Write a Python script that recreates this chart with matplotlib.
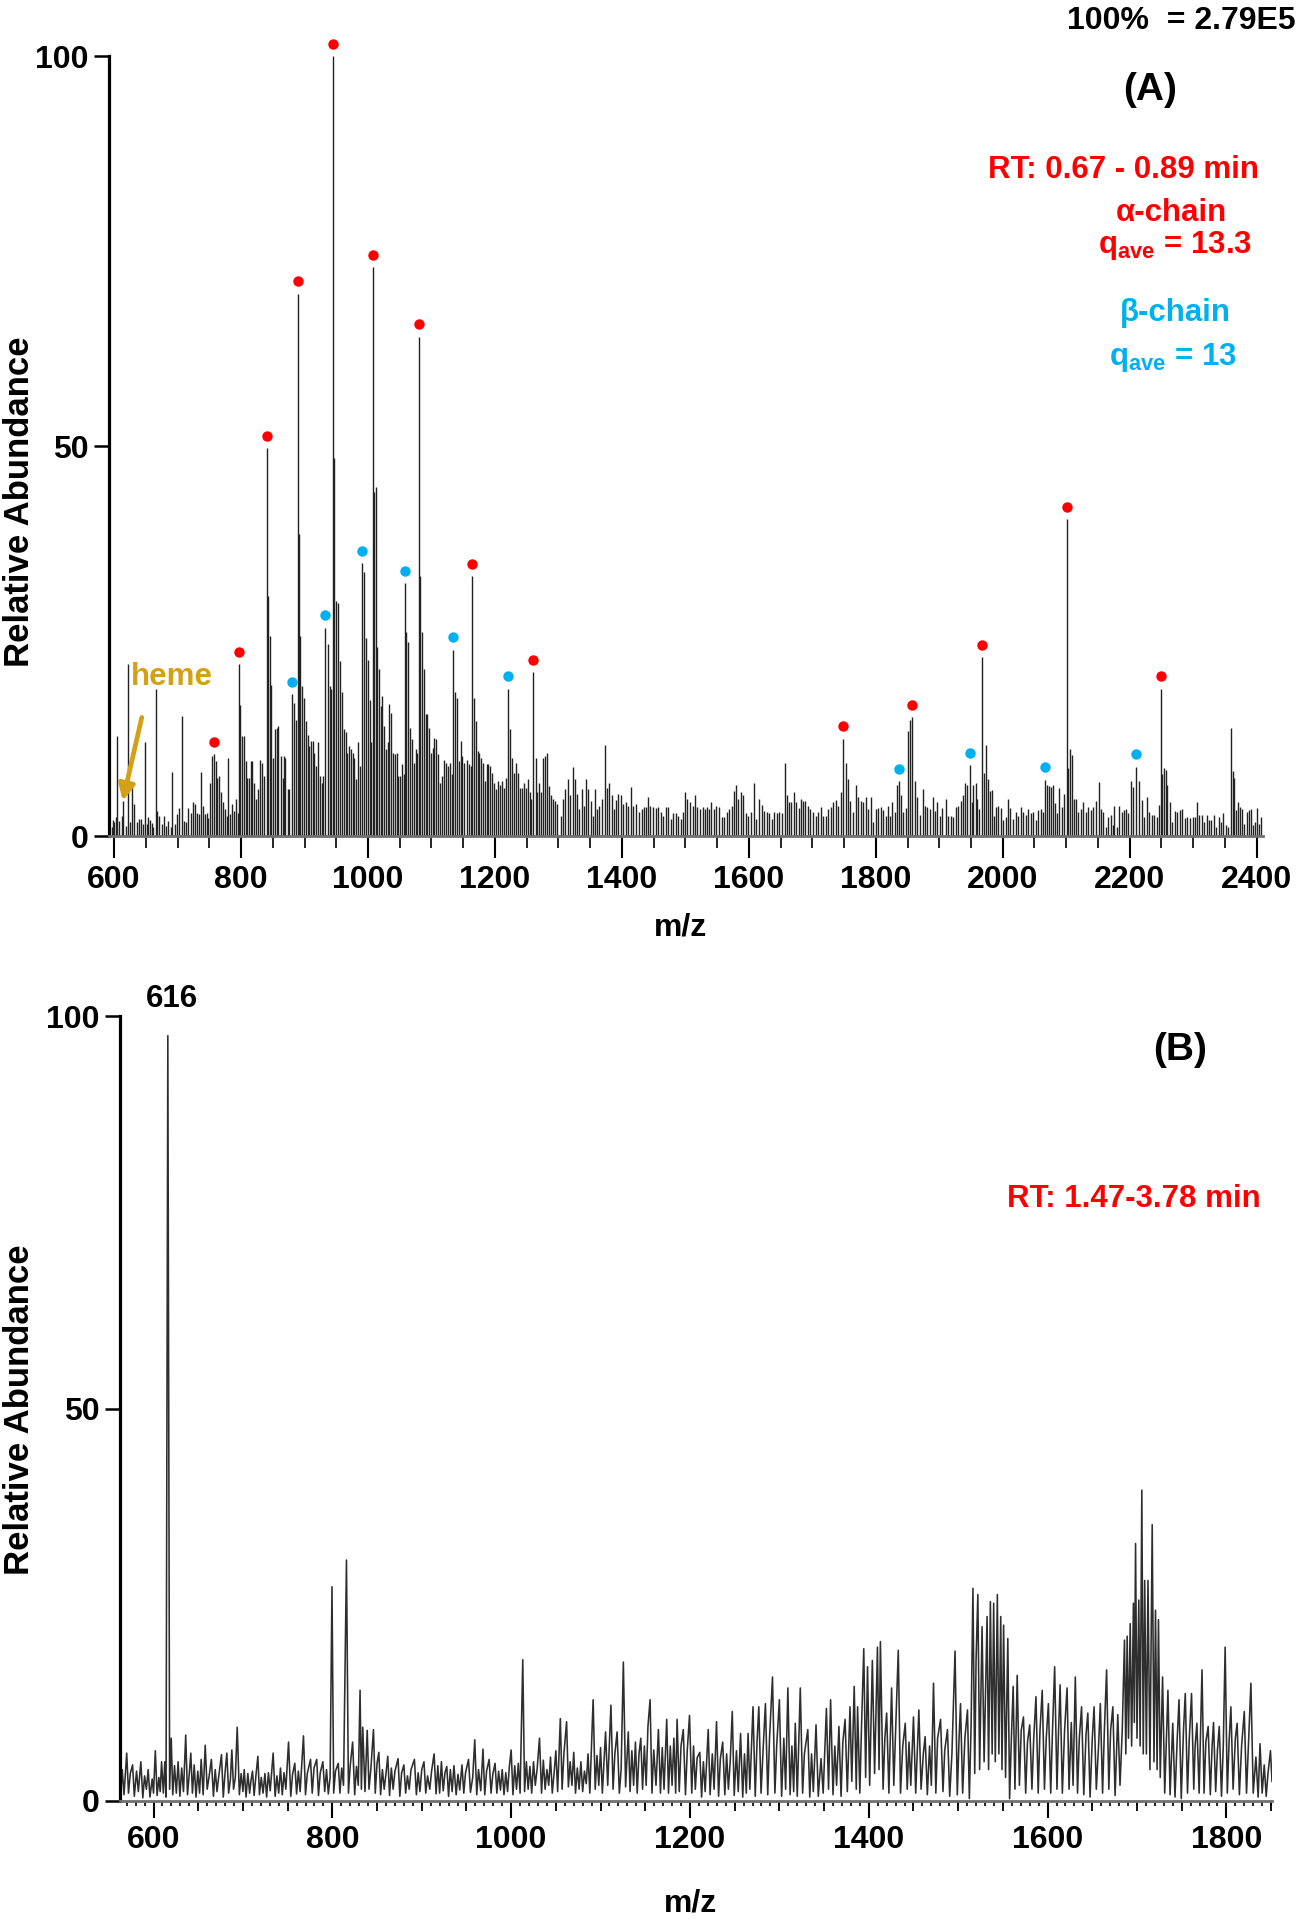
import matplotlib
matplotlib.use('Agg')
import matplotlib.pyplot as plt
from matplotlib.ticker import MultipleLocator, NullFormatter

plt.rcParams['font.family'] = ['Liberation Sans', 'DejaVu Sans']
plt.rcParams['font.weight'] = 'bold'
plt.rcParams['mathtext.fontset'] = 'custom'
plt.rcParams['mathtext.rm'] = 'Liberation Sans:bold'
plt.rcParams['mathtext.bf'] = 'Liberation Sans:bold'
plt.rcParams['mathtext.it'] = 'Liberation Sans:bold'

# ---------------- Panel A : stick spectrum (m/z, relative abundance) ----------------
mz_a = [
    596, 598, 600.5, 603, 605.2, 608.4, 612, 614.6, 618.3, 622, 625, 629, 632, 635.6, 639, 642, 645, 649,
    651.4, 654, 656.6, 659, 662, 665.6, 668, 671, 675, 678.7, 682, 685.5, 689, 692, 695.5, 699.7, 702.8, 707,
    710, 713.5, 717, 720.5, 724, 727, 730, 733.5, 737, 739.6, 743, 745.8, 748.5, 751, 754, 757, 760, 762.7,
    766, 768.5, 771.6, 775, 777.5, 780, 783, 786, 789, 792, 794.8, 797.3,
    799, 802, 804.7, 807.3, 810, 812.6, 815, 818, 821, 823.6, 827, 830, 833, 836, 840.4, 842, 845.7, 848,
    850, 853, 856, 859, 862.5, 865.6, 868, 870, 873.5, 876, 880.8, 884, 886.6, 889.2, 890.8, 893.4, 896.6,
    898.7, 902, 905, 907.6, 910.2, 913, 915.5, 918, 921, 924.4, 927, 929.5, 932.8, 936.5, 939.6, 942, 945.4,
    947, 950, 952.8, 955.4, 958.5, 961.7, 964.8, 967.5, 970.6, 973.2, 976, 978.5, 981, 984.8, 987, 990,
    993.7, 997, 1000, 1003, 1005, 1007.4, 1010, 1012, 1014.7, 1017.3, 1020, 1022.6, 1025, 1028, 1031, 1033.6,
    1036, 1039, 1042, 1045, 1047.8, 1050.5, 1053.5, 1056, 1058.8, 1060.4, 1063.5, 1066.7, 1069.3, 1072.5,
    1075.6, 1078, 1080.3, 1081.9, 1085, 1087.7, 1091, 1093.5, 1096, 1099.2, 1101.8, 1104.5, 1107, 1110.3,
    1113.4, 1116.6, 1119.7, 1122.7, 1125.5, 1129, 1132, 1134.4, 1137.6, 1140.2, 1142.8, 1146, 1148.6, 1151.7,
    1155.4, 1158.5, 1161.7, 1164.3, 1167, 1169.6, 1172.7, 1175.3, 1178, 1180.7, 1184.3, 1187, 1189.6, 1192.7,
    1195.8, 1199, 1201.6, 1204.8, 1208, 1211, 1214.2, 1216.8, 1220.5, 1223.6, 1226.8, 1230, 1233, 1236.3,
    1239.4, 1242.6, 1245.7, 1248.8, 1252, 1255, 1257.5, 1260.4, 1264, 1266.7, 1270, 1272.6, 1276, 1278.8,
    1281.4, 1284.6, 1287.7, 1291, 1294.5, 1298,
    1303.6, 1307.8, 1310, 1314.6, 1318, 1323.5, 1326, 1330, 1333, 1336.6, 1340, 1343.5, 1347, 1351, 1354,
    1357.6, 1361, 1364.5, 1368, 1373, 1376, 1380, 1384, 1387.5, 1390.7, 1394, 1398, 1402, 1406.5, 1410, 1414,
    1418, 1423, 1427.5, 1431, 1435, 1438, 1441.6, 1445, 1449.5, 1453.7, 1457.4, 1461, 1465, 1469.5, 1473,
    1477, 1481, 1485, 1489, 1492.5, 1496, 1499, 1503, 1507, 1511.5, 1515, 1519, 1523, 1527, 1531, 1534.5,
    1538, 1541, 1545, 1549, 1553, 1557, 1561, 1565, 1569, 1573, 1576.6, 1579, 1583, 1587, 1591, 1595.5, 1599,
    1603, 1608.6, 1612, 1616.5, 1620, 1624, 1628, 1632, 1636, 1639.5, 1643.8, 1648, 1651.6, 1657, 1660.6,
    1663.7, 1667, 1671, 1675, 1679, 1682, 1686, 1689, 1693.6, 1697, 1701.5, 1705.7, 1709, 1713, 1717, 1721,
    1725, 1729, 1733, 1737, 1741, 1744.5, 1748.8, 1752.4, 1756.6, 1760, 1764.5, 1768.7, 1772, 1776, 1780,
    1784.5, 1788, 1792, 1796, 1800, 1804, 1807.6, 1811.7, 1815.4, 1819, 1822, 1826, 1830, 1834, 1837, 1839.6,
    1843, 1847, 1851, 1853.8, 1857, 1861.6, 1865, 1869.5, 1873.7, 1877, 1881, 1885, 1889.5, 1893, 1897, 1901,
    1905, 1910, 1914, 1918, 1922, 1926, 1930, 1933.6, 1936.7, 1940, 1943, 1948, 1951.4, 1953.5, 1957.7, 1960,
    1963, 1967, 1970.8, 1973.5, 1976, 1980, 1982.4, 1986, 1989, 1993, 1996.6, 2000.8, 2004.4, 2008.6, 2012,
    2016.5, 2020.7, 2024,
    2028, 2032, 2036, 2040, 2044.5, 2048, 2052, 2056, 2059.7, 2063, 2066.6, 2069, 2072.4, 2075.5, 2078.6,
    2082.3, 2086, 2089, 2093, 2097, 2100.7, 2102.8, 2105.4, 2108.6, 2112, 2115.4, 2119, 2122.8, 2127, 2131,
    2134.8, 2138.5, 2142.7, 2147, 2151.6, 2154.8, 2158.5, 2162.6, 2166.3, 2170, 2173, 2175.8, 2179.5, 2183.6,
    2187.3, 2191, 2194, 2197.8, 2201.5, 2205.7, 2209.9, 2214, 2218.8, 2222.5, 2226.7, 2230.4, 2234.6, 2238.3,
    2242.5, 2245.6, 2249.3, 2251.4, 2254, 2257, 2259.3, 2263.5, 2267, 2270.8, 2275, 2279, 2283, 2286.5,
    2290.8, 2295, 2299, 2302.8, 2305.5, 2309.6, 2313.3, 2317, 2321, 2325, 2328.5, 2332.2, 2336, 2340, 2343.8,
    2347.5, 2351, 2354.8, 2359, 2362.2, 2364.3, 2367.4, 2370.5, 2373.7, 2376.9, 2380.5, 2384.2, 2387.4,
    2390.5, 2393.6, 2396.8, 2400, 2403, 2406.3,
]
int_a = [
    1.2, 2.0, 1.8, 2.4, 12.8, 1.9, 2.6, 4.5, 1.3, 22.0, 1.8, 6.4, 4.1, 1.8, 2.2, 2.2, 1.6, 12.0,
    1.6, 2.4, 2.1, 1.7, 1.2, 18.9, 3.2, 2.6, 1.6, 2.6, 1.3, 1.9, 1.1, 8.2, 1.6, 2.8, 3.6, 15.4,
    1.9, 1.8, 3.6, 2.9, 4.3, 4.1, 3.0, 2.8, 8.2, 3.8, 2.8, 3.0, 2.3, 6.8, 10.2, 10.5, 9.6, 7.5,
    7.7, 5.6, 4.3, 3.5, 2.6, 10.0, 2.8, 4.1, 3.2, 4.7, 3.0, 22.0,
    16.8, 12.8, 12.8, 9.6, 7.5, 7.5, 9.6, 9.6, 6.8, 4.7, 6.0, 9.8, 9.4, 7.7, 49.7, 30.8, 25.6, 19.4,
    10.0, 13.7, 13.9, 14.1, 10.3, 7.5, 10.3, 10.0, 6.0, 6.0, 18.2, 17.0, 14.9, 69.5, 38.7, 25.6, 19.2,
    17.7, 14.7, 13.0, 11.5, 12.2, 12.2, 10.7, 9.0, 12.0, 7.7, 6.8, 7.7, 26.7, 24.6, 19.2, 18.8, 100.0,
    48.4, 30.1, 29.9, 22.5, 18.4, 13.7, 13.3, 10.7, 11.5, 11.2, 10.7, 10.0, 7.3, 12.0, 9.0, 35.0,
    33.8, 25.4, 22.6, 17.5, 12.0, 72.9, 44.1, 44.7, 24.2, 21.4, 16.7, 18.0, 14.1, 11.2, 12.0, 16.9,
    15.8, 10.7, 10.5, 10.7, 7.7, 7.7, 9.2, 8.0, 32.4, 26.1, 24.9, 13.9, 12.4, 9.4,
    11.2, 10.7, 64.0, 33.3, 26.1, 21.4, 15.6, 15.6, 13.9, 10.7, 11.3, 12.6, 12.4, 10.5,
    6.8, 7.7, 9.8, 9.4, 9.0, 9.4, 8.0, 23.9, 18.4, 17.7, 9.6, 12.2, 10.3, 9.4,
    9.8, 9.2, 9.0, 33.3, 17.7, 14.7, 10.9, 10.7, 10.0, 9.4, 7.1, 9.2, 9.2, 9.0,
    8.1, 6.8, 6.0, 7.1, 6.6, 7.1, 6.2, 7.5, 18.9, 13.7, 10.0, 8.1, 9.4, 8.1,
    6.2, 6.2, 6.8, 6.2, 7.3, 5.6, 4.8, 21.0, 10.0, 5.6, 6.8, 5.6, 10.0, 10.3,
    10.7, 6.4, 5.2, 4.7, 4.5, 4.1,
    2.6, 4.8, 6.0, 7.3, 5.2, 8.9, 7.3, 5.4, 3.5, 6.0, 3.9, 7.3, 6.0, 4.5, 2.6,
    6.0, 3.5, 3.9, 4.8, 11.7, 6.1, 6.8, 5.2, 3.5, 4.6, 5.4, 5.2, 4.1, 4.3, 3.9, 6.3,
    3.8, 4.1, 3.1, 3.5, 3.7, 3.7, 5.0, 3.9, 3.7, 3.6, 3.7, 3.1, 2.6, 3.7, 3.7,
    2.2, 2.9, 2.9, 2.6, 2.2, 3.1, 5.6, 4.8, 4.3, 3.9, 5.2, 3.7, 3.5, 3.7, 3.5, 3.7,
    3.5, 4.3, 3.5, 3.8, 3.7, 2.4, 2.4, 3.1, 3.5, 3.9, 5.8, 6.5, 4.8, 5.6, 5.2, 2.9, 2.6,
    3.1, 6.8, 2.2, 4.8, 4.0, 3.2, 3.1, 2.9, 2.2, 3.1, 2.9, 3.1, 2.9, 9.4, 5.2,
    4.3, 4.3, 5.7, 4.3, 3.6, 4.8, 4.5, 4.5, 3.9, 3.5, 3.1, 2.6, 3.1, 3.7, 2.6, 2.6,
    3.5, 3.7, 4.3, 4.6, 3.9, 5.7, 12.5, 9.4, 7.3, 4.5, 3.1, 6.5, 5.0, 4.5, 4.3,
    5.0, 3.5, 5.0, 1.8, 3.5, 3.6, 3.7, 3.3, 2.6, 3.9, 2.6, 4.4, 3.1, 6.5, 7.0, 5.2,
    3.1, 3.6, 13.4, 14.9, 15.2, 7.0, 5.0, 2.7, 6.0, 3.9, 3.7, 3.5, 5.0, 3.2, 4.3, 2.6,
    3.6, 4.8, 2.6, 2.6, 2.4, 3.7, 3.8, 4.5, 5.2, 6.8, 6.5, 9.1, 4.3, 6.5, 6.8, 4.8,
    3.5, 22.9, 8.1, 11.7, 7.3, 5.8, 5.9, 2.6, 3.7, 3.8, 3.6, 2.0, 2.4, 4.8, 3.6,
    2.2, 3.1, 2.6,
    3.7, 3.1, 2.7, 3.5, 2.9, 3.1, 2.0, 3.3, 3.5, 3.1, 7.2, 6.6, 6.4, 6.3, 6.6,
    4.2, 2.9, 6.1, 3.75, 5.4, 40.6, 8.7, 11.2, 10.4, 4.8, 4.8, 3.1, 3.5, 4.3, 3.1,
    3.75, 3.3, 3.75, 4.5, 6.9, 3.5, 3.1, 1.2, 2.5, 2.7, 1.4, 3.8, 1.2, 3.8,
    3.1, 3.3, 3.5, 2.9, 7.1, 6.3, 8.9, 7.1, 4.6, 2.5, 5.0, 3.1, 2.7, 2.7,
    2.5, 4.0, 18.9, 7.9, 8.7, 8.4, 6.5, 4.3, 1.8, 3.2, 3.1, 3.3, 3.5, 2.3,
    2.5, 2.3, 2.5, 2.5, 4.3, 2.7, 2.7, 1.8, 2.7, 2.0, 2.0, 2.7, 1.2, 2.5, 1.8,
    2.9, 1.4, 1.2, 13.8, 8.3, 7.5, 3.3, 4.3, 3.75, 3.5, 1.6, 3.1, 3.3,
    3.5, 1.4, 1.8, 3.6, 1.6, 2.5,
]

# annotated charge-state peaks (dot markers)
alpha_mz = [757, 797.3, 840.4, 889.2, 945.4, 1007.4, 1080.3, 1164.3, 1260.4, 1748.8, 1857, 1967, 2100.7, 2249.3]
alpha_int = [10.5, 22.0, 49.7, 69.5, 100.0, 72.9, 64.0, 33.3, 21.0, 12.5, 15.2, 22.9, 40.6, 18.9]
beta_mz = [880.8, 932.8, 990, 1058.8, 1134.4, 1220.5, 1837, 1948, 2066.6, 2209.9]
beta_int = [18.2, 26.7, 35.0, 32.4, 23.9, 18.9, 7.0, 9.1, 7.2, 8.9]

# ---------------- Panel B : profile spectrum ----------------
mz_b = [
    563, 565, 567, 570, 572, 574, 576.6, 578.5, 581, 583, 585.8, 588, 590, 592, 594, 596, 598.5, 600, 602, 604,
    606, 607.5, 609, 611, 612.6, 614, 616, 618, 619.8, 621.5, 623.5, 625.5, 627.5, 629.5, 631.5, 633.5, 636,
    638, 640, 641.7, 643.5, 645.5, 647.5, 649.5, 651.5, 653.3, 655.5, 657.8, 660, 662, 664.7, 667, 669, 671,
    673, 676, 678, 680, 682, 684, 686, 687.6, 689.5, 691.5, 693.6, 696, 698, 700, 701.4, 703.5, 705.5, 707.5,
    709, 710.7, 712.5, 714.5, 716.7, 718.5, 720.5, 722.5, 724.6, 726.5, 728.5, 730.5, 733.8, 736, 738, 740,
    742, 744, 746, 748, 751, 753.5, 755.5, 758, 760, 762, 764, 765.5, 767.7, 770, 772, 775.6, 777.5, 779.5,
    782.5, 784.5, 786.5, 789.4, 791.5, 793.5, 795.5, 797.5, 799.6, 801.5, 803.5, 806.6, 808.5, 810.5, 812.5,
    815.8, 818, 820, 822.7, 825, 827, 829, 831, 832.5, 834, 836.5, 839, 841, 843, 846, 848, 850, 852, 854,
    856, 858, 860, 862, 864, 866, 868, 870, 873.5, 875.5, 877.5, 880, 882, 884, 886, 888, 891.8, 894, 896,
    898, 900, 902.5, 904.5, 906.5, 909, 911, 913.8, 916, 918, 920, 922, 924, 926, 928, 930, 932, 934, 936,
    938.5, 940.5, 942.5, 945, 947, 949, 952.3, 954.5, 957, 959.3, 961.5, 963.5, 966, 968.5, 970.5, 972.5,
    975.4, 977.5, 979.5, 982, 984, 986, 988, 990, 992, 994, 996, 998, 1000, 1002, 1004, 1006, 1008, 1010,
    1013, 1015, 1017, 1019, 1021, 1023, 1025, 1027, 1029, 1031.7, 1034, 1036, 1038, 1040, 1042, 1044, 1046,
    1048, 1050, 1052, 1055, 1057, 1059, 1062, 1064, 1066, 1068, 1070, 1072, 1074, 1076, 1078, 1080, 1082,
    1084, 1086, 1088, 1091.7, 1094, 1096, 1098, 1100, 1102, 1105.6, 1108, 1111.6, 1114, 1116, 1118.5, 1121,
    1123, 1125.5, 1128, 1131, 1133, 1135, 1137, 1139, 1141, 1143, 1145, 1147, 1149, 1151, 1153, 1155.4,
    1157.5, 1159.5, 1162, 1164.7, 1167, 1169, 1171, 1174, 1176, 1178, 1180, 1182, 1184, 1185.6, 1188, 1190,
    1192.5, 1195, 1197, 1199.5, 1202, 1204, 1206, 1208, 1211, 1213, 1215, 1217, 1220.4, 1222.5, 1225, 1227,
    1229.7, 1232, 1234, 1236.6, 1239, 1241, 1243, 1245, 1247.3, 1249.5, 1252, 1254, 1256.6, 1259, 1261, 1263,
    1265, 1267, 1270.5, 1273, 1275, 1277, 1279.5, 1282, 1284.4, 1287, 1289, 1292.3, 1295, 1297, 1300, 1302.5,
    1305, 1307, 1309.5, 1312, 1314, 1316, 1317.8, 1320, 1323.4, 1326, 1328, 1331.8, 1334, 1336, 1338, 1341,
    1343.5, 1346.6, 1349, 1352.6, 1355, 1357.3, 1360, 1362, 1364, 1366.6, 1369, 1371, 1373.5, 1376, 1379,
    1381, 1383.7, 1386, 1387.5, 1390, 1392, 1394.4, 1396.5, 1398.6, 1401, 1404, 1406.5, 1409.7, 1411.5, 1413,
    1416, 1418, 1420, 1422.5, 1425.5, 1428, 1430, 1433, 1435.5, 1438, 1440.8, 1443, 1445, 1447, 1450, 1452.5,
    1456, 1458.5, 1461, 1463, 1465.5, 1468, 1470, 1472.4, 1475, 1477, 1480.3, 1483, 1485, 1488, 1490.5, 1493,
    1496.5, 1499, 1501, 1502.6, 1505, 1507.5, 1510.4, 1512.5, 1514.5, 1516.5, 1518.5, 1520, 1522, 1524,
    1526.7, 1529, 1532.3, 1534, 1536, 1538, 1539.7, 1541.5, 1543.8, 1545.5, 1547.6, 1549, 1550.8, 1553,
    1555.5, 1557.5, 1559.5, 1561.5, 1563.5, 1566, 1568.5, 1570.5, 1573, 1575.5, 1577.5, 1580, 1582.5, 1584.5,
    1587, 1589.5, 1591.5, 1594, 1596.5, 1598.5, 1600.9, 1603.5, 1605.5, 1607.9, 1610.5, 1612, 1614, 1616.5,
    1619, 1621.8, 1624, 1626.5, 1628.5, 1631, 1633.5, 1635.5, 1638, 1640.5, 1643, 1645, 1647.5, 1650, 1652,
    1654.5, 1657, 1659, 1661.5, 1663.5, 1666, 1668.5, 1670.5, 1673, 1675.5, 1678.5, 1681, 1683.5, 1686,
    1687.5, 1689, 1690.5, 1692.4, 1694, 1696, 1697, 1698.4, 1700, 1702, 1703.5, 1705.4, 1707, 1708.6, 1710.5,
    1712.3, 1714.5, 1717, 1719, 1720.7, 1722.5, 1724, 1726, 1728.6, 1731, 1734.6, 1737, 1740, 1742.5, 1745,
    1747, 1749.5, 1752, 1754, 1756.5, 1758.5, 1761, 1763.5, 1765, 1767, 1769.5, 1772.7, 1775, 1777, 1779.6,
    1782, 1784, 1785.6, 1788, 1790, 1792, 1794.5, 1796.5, 1798.6, 1801, 1803, 1805, 1807.5, 1810, 1812,
    1814.5, 1817, 1820, 1822.5, 1825, 1827.4, 1830, 1833, 1835.5, 1837.6, 1840, 1842.3, 1844.5, 1846.5,
    1849.3, 1851,
]
ab_b = [
    0.5, 4.0, 0.8, 6.1, 1.0, 3.5, 4.6, 0.6, 3.8, 1.2, 5.0, 0.4, 3.2, 1.5, 4.0, 0.5, 2.8, 1.0, 6.4, 0.7,
    3.0, 1.2, 5.0, 1.0, 5.0, 0.5, 97.5, 1.5, 8.0, 0.8, 4.5, 1.0, 5.0, 0.6, 4.2, 1.2, 8.4,
    0.8, 3.5, 6.1, 1.0, 4.6, 0.5, 3.8, 1.0, 5.3, 0.8, 7.1, 1.5, 3.0, 5.3, 0.6, 4.0, 1.2,
    3.2, 5.9, 0.5, 3.6, 6.1, 1.0, 2.8, 6.5, 1.5, 3.0, 9.4, 0.8, 3.5, 1.2, 4.0, 0.5, 3.5, 1.0,
    2.6, 3.8, 0.7, 3.2, 5.7, 0.8, 3.0, 1.0, 3.5, 0.5, 3.6, 1.3, 6.1, 0.6, 3.2, 1.0,
    4.2, 0.8, 3.6, 1.5, 7.5, 0.6, 3.4, 4.8, 0.9, 3.8, 1.2, 4.0, 8.3, 0.8, 3.5, 5.3, 1.0, 4.2,
    5.3, 0.7, 3.6, 5.0, 1.2, 4.0, 0.9, 3.0, 27.3, 1.0, 3.8, 4.8, 1.0, 4.2, 2.0,
    30.7, 1.0, 4.5, 7.5, 0.8, 4.4, 2.0, 14.1, 1.5, 9.4, 1.2, 9.0, 1.5, 4.0, 9.1, 1.0, 4.8, 6.2, 0.8,
    4.0, 1.5, 3.5, 5.7, 0.7, 4.2, 1.5, 3.8, 5.4, 0.6, 3.6, 4.6, 1.0, 3.2, 1.5, 4.0, 5.3, 0.8, 3.6,
    1.2, 4.0, 5.0, 1.0, 3.2, 1.5, 3.8, 6.0, 0.9, 4.5, 1.0, 5.0, 1.3, 3.6, 4.4, 0.6, 4.0, 1.2, 4.5,
    0.8, 3.4, 1.4, 4.6, 1.0, 3.6, 5.3, 1.1, 3.0, 7.8, 0.8, 4.0, 1.3, 6.6, 0.8, 3.8,
    5.3, 1.0, 3.4, 4.8, 1.0, 3.8, 1.4, 4.0, 0.8, 3.6, 1.2, 4.4, 6.5, 0.8, 4.5, 1.5, 4.8, 1.0,
    18.0, 1.2, 5.0, 1.5, 4.4, 1.0, 5.0, 2.0, 4.0, 8.0, 1.0, 5.2, 1.5, 4.0, 2.0, 5.6, 1.0,
    3.5, 6.4, 1.2, 10.5, 1.5, 6.0, 10.1, 1.8, 5.0, 2.0, 6.2, 1.0, 4.2, 1.5, 5.0, 1.2, 3.8,
    2.2, 6.0, 1.0, 12.9, 1.5, 5.8, 2.0, 6.8, 1.0, 8.8, 2.0, 12.2, 1.5, 6.0, 8.8, 1.0,
    4.0, 17.7, 1.8, 8.8, 1.2, 6.4, 2.0, 7.5, 1.0, 6.0, 8.0, 1.5, 7.0, 2.0, 9.5, 12.9,
    1.0, 6.5, 2.0, 9.1, 1.0, 6.8, 1.5, 10.4, 1.0, 7.0, 2.0, 8.0, 1.0, 10.4, 1.2, 7.0,
    9.1, 0.8, 6.5, 10.9, 1.0, 7.0, 1.5, 5.5, 6.2, 0.5, 5.0, 1.2, 9.1, 0.8, 6.0, 1.5,
    10.1, 0.6, 5.4, 7.5, 0.8, 6.0, 1.5, 5.0, 11.4, 0.7, 6.4, 1.2, 8.6, 0.5, 6.0, 1.0,
    8.6, 1.5, 12.0, 0.6, 7.5, 12.0, 1.0, 7.0, 12.4, 0.8, 8.0, 15.8, 1.0, 7.0, 12.9, 0.6,
    8.0, 1.5, 14.4, 0.8, 7.0, 1.2, 9.9, 0.6, 14.4, 1.0, 6.0, 9.1, 0.5, 6.0, 1.2, 9.7,
    0.6, 5.4, 1.0, 11.8, 1.5, 12.9, 0.8, 7.0, 2.0, 9.5, 0.6, 7.5, 10.4, 1.2, 12.0,
    2.5, 14.6, 1.5, 12.0, 1.0, 10.0, 19.4, 3.0, 17.1, 2.0, 17.9, 3.5, 19.6, 4.0, 20.3,
    1.5, 8.0, 11.2, 1.0, 14.4, 2.0, 9.0, 19.2, 1.0, 7.0, 9.9, 1.5, 7.5, 2.0, 10.7, 1.0,
    11.6, 1.5, 6.0, 8.2, 0.8, 7.0, 2.0, 15.0, 1.0, 8.0, 10.4, 1.2, 6.5, 9.1, 0.6, 6.0,
    19.1, 0.8, 8.0, 12.4, 1.0, 8.0, 11.6, 0.3, 10.0, 27.1, 3.5, 18.0, 26.3, 4.0,
    22.2, 5.0, 23.5, 4.0, 25.4, 6.0, 25.2, 5.0, 26.3, 6.0, 23.5, 4.0, 22.4, 3.0,
    20.7, 0.3, 8.0, 14.6, 1.5, 16.0, 2.0, 9.0, 10.7, 1.0, 7.5, 9.7, 1.5, 8.0,
    13.3, 1.0, 9.0, 14.1, 1.5, 8.0, 12.4, 1.0, 9.0, 17.1, 1.5, 8.0, 14.8, 1.0,
    9.0, 14.4, 1.5, 10.0, 2.0, 15.8, 1.0, 8.0, 12.0, 0.8, 8.5, 11.2, 0.5, 8.0, 12.0,
    1.5, 7.0, 12.4, 1.0, 9.0, 16.7, 1.5, 9.0, 12.0, 0.7, 11.0, 2.0, 9.0, 20.5,
    6.0, 21.0, 8.0, 22.6, 7.0, 25.2, 10.0, 32.8, 8.0, 25.6, 7.0, 39.6, 6.0, 28.1, 6.0,
    28.1, 4.0, 35.2, 5.0, 24.3, 4.0, 23.1, 3.0, 15.8, 1.0, 14.1, 0.8, 9.9, 0.5, 8.0,
    12.9, 0.3, 9.0, 13.7, 1.0, 8.0, 13.7, 1.5, 7.0, 9.9, 1.0, 16.7, 1.0, 7.5, 9.5,
    0.8, 7.0, 10.0, 1.2, 6.5, 9.5, 0.6, 7.0, 19.6, 1.0, 7.5, 12.0, 1.5, 8.0, 9.9,
    0.8, 7.0, 11.4, 1.0, 8.0, 15.0, 1.0, 5.6, 0.5, 7.3, 1.0, 4.6, 0.6, 3.5,
    6.4, 2.5,
]

# ---------------- text ----------------
a_xticks = [600, 800, 1000, 1200, 1400, 1600, 1800, 2000, 2200, 2400]
b_xticks = [600, 800, 1000, 1200, 1400, 1600, 1800]
y_ticks = [0, 50, 100]

RED = '#FF0000'
BLUE = '#00B0F0'
GOLD = '#D4A017'
STICK = '#222222'

W, H = 1300, 1920
fig = plt.figure(figsize=(13, 19.2), dpi=100)


def fx(px):
    return px / W


def fy(py):
    return 1 - py / H


def style_axes(ax, xmaj_len, xmin_len):
    for s in ('top', 'right'):
        ax.spines[s].set_visible(False)
    ax.spines['left'].set_linewidth(2.3)
    ax.spines['left'].set_color('black')
    ax.spines['left'].set_bounds(0, 100)
    ax.spines['bottom'].set_linewidth(2.0)
    ax.spines['bottom'].set_color('#707070')
    ax.set_yticks(y_ticks)
    ax.set_yticklabels([str(v) for v in y_ticks])
    ax.tick_params(axis='y', direction='out', length=11, width=1.8, pad=3.5, labelsize=23)
    ax.tick_params(axis='x', which='major', direction='out', length=xmaj_len, width=1.5, pad=5, labelsize=23)
    ax.tick_params(axis='x', which='minor', direction='out', length=xmin_len, width=1.2)
    for lab in ax.get_xticklabels() + ax.get_yticklabels():
        lab.set_fontweight('bold')


# ---------------- Panel A ----------------
axA = fig.add_axes([fx(109), fy(836), fx(1263) - fx(109), fy(56) - fy(836)])
axA.vlines(mz_a, 0, int_a, colors=STICK, lw=1.0)
axA.set_xlim(592, 2410)
axA.set_ylim(0, 100)
axA.set_xticks(a_xticks)
axA.set_xticklabels([str(v) for v in a_xticks])
axA.xaxis.set_minor_locator(MultipleLocator(50))
style_axes(axA, 16, 8.5)

dot_off = 1.6
axA.plot(alpha_mz, [v + dot_off for v in alpha_int], 'o', color=RED, ms=7.5, mec='none', clip_on=False, zorder=5)
axA.plot(beta_mz, [v + dot_off for v in beta_int], 'o', color=BLUE, ms=7.5, mec='none', clip_on=False, zorder=5)

axA.annotate('', xy=(613.7, 4.5), xytext=(643.6, 15.2),
             arrowprops=dict(arrowstyle='-|>', color=GOLD, lw=3.4, mutation_scale=24, shrinkA=0, shrinkB=0),
             annotation_clip=False)

# ---------------- Panel B ----------------
axB = fig.add_axes([fx(120), fy(1801), fx(1272) - fx(120), fy(1016) - fy(1801)])
axB.plot(mz_b, ab_b, color='#2e2e2e', lw=1.15)
axB.set_xlim(562.5, 1851)
axB.set_ylim(0, 100)
axB.set_xticks(b_xticks)
axB.set_xticklabels([str(v) for v in b_xticks])
axB.xaxis.set_minor_locator(MultipleLocator(10))
style_axes(axB, 12.5, 3.8)
# medium ticks every 50
secB = axB.secondary_xaxis('bottom')
secB.set_xticks([v for v in range(600, 1851, 50) if v % 200 != 0])
secB.xaxis.set_major_formatter(NullFormatter())
secB.tick_params(axis='x', direction='out', length=7.5, width=1.3)
secB.spines['bottom'].set_visible(False)

# ---------------- labels & annotations ----------------
fig.text(fx(20), fy(502), 'Relative Abundance', rotation=90, ha='center', va='center', fontsize=25, fontweight='bold')
fig.text(fx(20), fy(1410), 'Relative Abundance', rotation=90, ha='center', va='center', fontsize=25, fontweight='bold')
fig.text(fx(681), fy(927), 'm/z', ha='center', va='center', fontsize=23, fontweight='bold')
fig.text(fx(691), fy(1903), 'm/z', ha='center', va='center', fontsize=23, fontweight='bold')

fig.text(fx(1296), fy(21), '100%  = 2.79E5', ha='right', va='center', fontsize=23, fontweight='bold')
fig.text(fx(1150), fy(90), '(A)', ha='center', va='center', fontsize=28, fontweight='bold')
fig.text(fx(1124), fy(170), 'RT: 0.67 - 0.89 min', ha='center', va='center', fontsize=22.5, fontweight='bold', color=RED)
fig.text(fx(1171), fy(213), 'α-chain', ha='center', va='center', fontsize=22.5, fontweight='bold', color=RED)
fig.text(fx(1175), fy(246), r'q$_{\rm ave}$ = 13.3', ha='center', va='center', fontsize=22.5, fontweight='bold', color=RED)
fig.text(fx(1175), fy(313), 'β-chain', ha='center', va='center', fontsize=22.5, fontweight='bold', color=BLUE)
fig.text(fx(1173), fy(357), r'q$_{\rm ave}$ = 13', ha='center', va='center', fontsize=22.5, fontweight='bold', color=BLUE)
fig.text(fx(172), fy(677), 'heme', ha='center', va='center', fontsize=22.5, fontweight='bold', color=GOLD)

fig.text(fx(172), fy(999), '616', ha='center', va='center', fontsize=22.5, fontweight='bold')
fig.text(fx(1180), fy(1050), '(B)', ha='center', va='center', fontsize=28, fontweight='bold')
fig.text(fx(1134), fy(1199), 'RT: 1.47-3.78 min', ha='center', va='center', fontsize=22.5, fontweight='bold', color=RED)

fig.savefig('out.png', dpi=100, facecolor='white')
